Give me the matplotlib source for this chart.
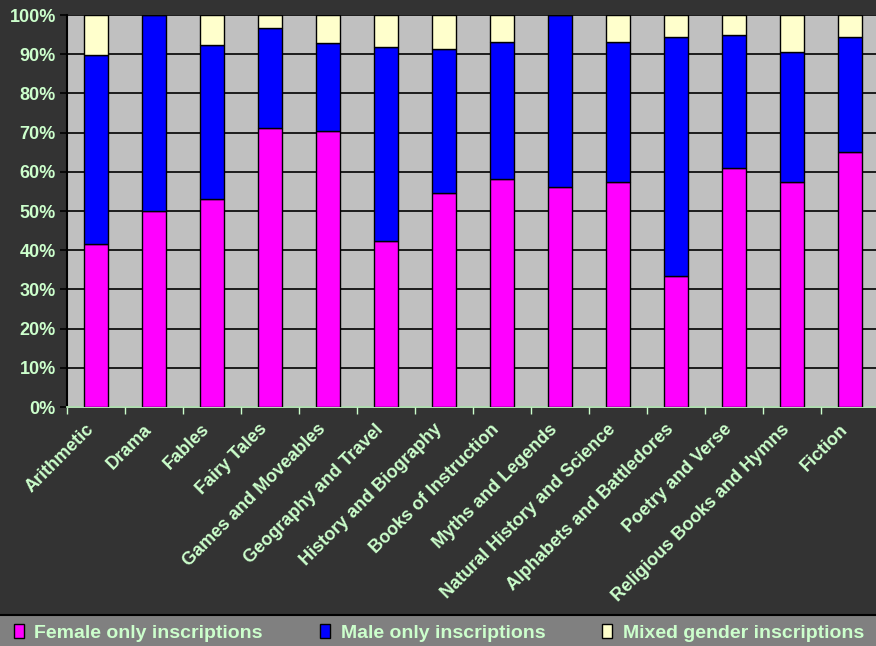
import numpy as np
import matplotlib
matplotlib.use("Agg")
import matplotlib.pyplot as plt
from matplotlib.patches import Patch, Rectangle
from matplotlib.transforms import ScaledTranslation

categories = ["Arithmetic", "Drama", "Fables", "Fairy Tales", "Games and Moveables",
              "Geography and Travel", "History and Biography", "Books of Instruction",
              "Myths and Legends", "Natural History and Science", "Alphabets and Battledores",
              "Poetry and Verse", "Religious Books and Hymns", "Fiction"]
female = [41.5, 50.0, 53.0, 71.3, 70.4, 42.3, 54.7, 58.2, 56.2, 57.5, 33.4, 60.9, 57.5, 65.1]
male = [48.3, 50.0, 39.3, 25.4, 22.4, 49.6, 36.6, 35.0, 43.8, 35.7, 61.1, 33.9, 33.1, 29.4]
mixed = [10.2, 0.0, 7.7, 3.3, 7.2, 8.1, 8.7, 6.8, 0.0, 6.8, 5.5, 5.2, 9.4, 5.5]

series = [("Female only inscriptions", female, "#ff00ff"),
          ("Male only inscriptions", male, "#0000ff"),
          ("Mixed gender inscriptions", mixed, "#ffffcc")]

txt = "#ccffcc"
bg = "#333333"

fig = plt.figure(figsize=(8.76, 6.46), dpi=100, facecolor=bg)
W, H = 876, 646
ax = fig.add_axes([67 / W, 1 - 407 / H, 812 / W, 392 / H])
ax.set_facecolor("#c0c0c0")

x = np.arange(len(categories))
bottom = np.zeros(len(categories))
for name, vals, col in series:
    vals = np.array(vals)
    ax.bar(x, vals, width=0.41, bottom=bottom, color=col, edgecolor="black",
           linewidth=1, label=name, zorder=3)
    bottom += vals

ax.set_xlim(-0.5, len(categories) - 0.5)
ax.set_ylim(0, 100)
ax.set_yticks(np.arange(0, 101, 10))
ax.set_yticklabels([f"{v}%" for v in range(0, 101, 10)])
ax.yaxis.grid(True, color="black", linewidth=1.2, zorder=1)
ax.set_axisbelow(True)

ax.set_xticks(x)
ax.set_xticklabels(categories, rotation=45, ha="right", rotation_mode="anchor")
ax.set_xticks(np.arange(-0.5, len(categories), 1), minor=True)
ax.tick_params(axis="x", which="major", length=0, pad=10)
ax.tick_params(axis="x", which="minor", length=5, color=txt, width=1)
ax.tick_params(axis="y", length=5, color="black", width=1.2, pad=3)

# nudge the slanted labels left, like the original
shift = ScaledTranslation(-0.11, 0.0, fig.dpi_scale_trans)
for lab in ax.get_xticklabels():
    lab.set_transform(lab.get_transform() + shift)

for lab in ax.get_xticklabels() + ax.get_yticklabels():
    lab.set_color(txt)
    lab.set_fontweight("bold")
    lab.set_fontsize(13)
    lab.set_family(["Liberation Sans", "DejaVu Sans"])

for s in ["top", "right"]:
    ax.spines[s].set_visible(False)
ax.spines["left"].set_color("black")
ax.spines["left"].set_linewidth(1.5)
ax.spines["bottom"].set_color(txt)
ax.spines["bottom"].set_linewidth(1.2)

# legend strip along the bottom
fig.patches.append(Rectangle((-0.01, -0.01), 1.02, 31 / H + 0.01, transform=fig.transFigure,
                             facecolor="#808080", edgecolor="black", linewidth=1.5))
handles = [Patch(facecolor=col, edgecolor="black", label=name) for name, _, col in series]
leg = fig.legend(handles=handles, loc="lower left", bbox_to_anchor=(10 / W, 0, 858 / W, 30 / H),
                 mode="expand", ncol=3, borderaxespad=0, frameon=False,
                 handlelength=0.5, handleheight=0.75, handletextpad=0.55,
                 borderpad=0.2, columnspacing=1.0,
                 prop={"family": ["Liberation Sans", "DejaVu Sans"],
                       "weight": "bold", "size": 14})
for t in leg.get_texts():
    t.set_color(txt)

fig.savefig("out.png", dpi=100, facecolor=bg)
